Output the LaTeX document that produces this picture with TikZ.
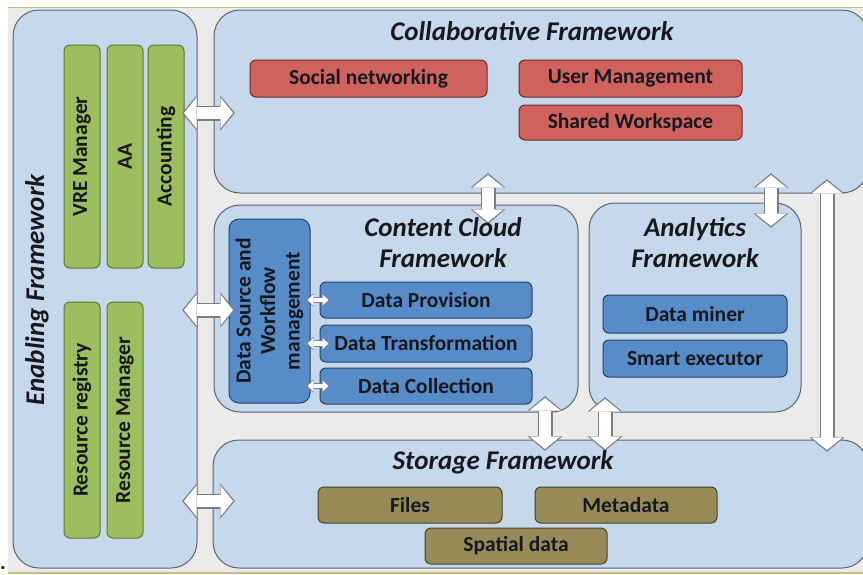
\documentclass[tikz,border=0pt]{standalone}
\usepackage{fontspec}
\setmainfont{Carlito}
\usetikzlibrary{arrows.meta}
\definecolor{bggray}{RGB}{235,235,236}
\definecolor{olivebar}{RGB}{196,190,128}
\definecolor{fwfill}{RGB}{198,216,236}
\definecolor{fwline}{RGB}{92,100,112}
\definecolor{greenfill}{RGB}{157,190,95}
\definecolor{greenline}{RGB}{92,118,48}
\definecolor{redfill}{RGB}{208,98,94}
\definecolor{redline}{RGB}{105,42,42}
\definecolor{bluefill}{RGB}{88,140,200}
\definecolor{blueline}{RGB}{38,66,104}
\definecolor{olivefill}{RGB}{150,139,86}
\definecolor{oliveline}{RGB}{72,66,36}
\definecolor{arrowline}{RGB}{125,125,128}
\definecolor{txt}{RGB}{22,24,30}
\newcommand\labelfont{\fontsize{21.5}{24.5}\selectfont\bfseries}
\newcommand\titlefont{\fontsize{27}{31}\selectfont\bfseries\itshape}
\tikzstyle{frame}=[draw=fwline, fill=fwfill, line width=1pt, rounded corners=26pt, inner sep=0pt]
\tikzstyle{title}=[text=txt, font=\titlefont, align=center, inner sep=0pt]
\tikzstyle{greenbar}=[draw=greenline, fill=greenfill, line width=1pt, rounded corners=6pt, rotate=90, minimum height=36pt, text=txt, font=\labelfont, inner sep=0pt]
\tikzstyle{redbox}=[draw=redline, fill=redfill, line width=1pt, rounded corners=6pt, text=txt, font=\labelfont, inner sep=0pt]
\tikzstyle{bluebox}=[draw=blueline, fill=bluefill, line width=1pt, rounded corners=6pt, text=txt, font=\labelfont, inner sep=0pt]
\tikzstyle{olivebox}=[draw=oliveline, fill=olivefill, line width=1pt, rounded corners=6pt, text=txt, font=\labelfont, inner sep=0pt]
\tikzstyle{bigarrow}=[white, line width=12.5pt, {Triangle[width=31pt,length=12.5pt,line width=0pt]}-{Triangle[width=31pt,length=12.5pt,line width=0pt]}, preaction={draw=arrowline, line width=15pt, {Triangle[width=35pt,length=14.5pt,line width=0pt]}-{Triangle[width=35pt,length=14.5pt,line width=0pt]}, shorten <=-1.8pt, shorten >=-1.8pt}]
\tikzstyle{smallarrow}=[white, line width=4.5pt, {Triangle[width=11pt,length=6pt,line width=0pt]}-{Triangle[width=11pt,length=6pt,line width=0pt]}, preaction={draw=arrowline, line width=6.3pt, {Triangle[width=13.5pt,length=7.2pt,line width=0pt]}-{Triangle[width=13.5pt,length=7.2pt,line width=0pt]}, shorten <=-1pt, shorten >=-1pt}]

\begin{document}
\begin{tikzpicture}[x=1pt,y=-1pt]
  \clip (0,0) rectangle (863,574);
  \fill[white] (0,0) rectangle (863,574);
  \fill[bggray] (8,8) rectangle (863,572);
  \draw[olivebar, line width=1.5pt] (8,7.5) -- (863,7.5);
  \draw[olivebar, line width=1.5pt] (8,573) -- (863,573);
  \node (dot) at (3,568) [text=txt, font=\labelfont, inner sep=0pt] {.};

  % frameworks
  \begin{scope}
    \node (enab) at (105,289) [frame, minimum width=184pt, minimum height=558pt] {};
    \node (collab) at (541,101.5) [frame, minimum width=654pt, minimum height=183pt] {};
    \node (content) at (396,308.5) [frame, minimum width=364pt, minimum height=207pt] {};
    \node (analytics) at (695,307.5) [frame, minimum width=212pt, minimum height=209pt] {};
    \node (storage) at (540.5,504) [frame, minimum width=655pt, minimum height=128pt] {};
  \end{scope}

  % components
  \begin{scope}
    \node (vre) at (82,156.5) [greenbar, minimum width=223pt] {VRE Manager};
    \node (aa) at (125,156.5) [greenbar, minimum width=223pt] {AA};
    \node (acct) at (166,156.5) [greenbar, minimum width=223pt] {Accounting};
    \node (resreg) at (82,420) [greenbar, minimum width=236pt] {Resource registry};
    \node (resmgr) at (125,420) [greenbar, minimum width=236pt] {Resource Manager};

    \node (social) at (368.5,78.5) [redbox, minimum width=237pt, minimum height=37pt] {Social networking};
    \node (usermgmt) at (630.5,78.5) [redbox, minimum width=223pt, minimum height=37pt] {User Management};
    \node (shared) at (630.5,122.5) [redbox, minimum width=223pt, minimum height=35pt] {Shared Workspace};

    \node (dsw) at (269.5,311) [bluebox, rounded corners=10pt, minimum width=81pt, minimum height=184pt] {};
    \node (dswtext) at (dsw.center) [rotate=90, text=txt, font=\labelfont, align=center, inner sep=0pt] {Data Source and\\Workflow\\management};
    \node (provision) at (426,300) [bluebox, minimum width=212pt, minimum height=36pt] {Data Provision};
    \node (transform) at (426,343.5) [bluebox, minimum width=212pt, minimum height=37pt] {Data Transformation};
    \node (collection) at (426,386) [bluebox, minimum width=212pt, minimum height=36pt] {Data Collection};

    \node (miner) at (695,314) [bluebox, minimum width=184pt, minimum height=38pt] {Data miner};
    \node (smartexec) at (695,358.5) [bluebox, minimum width=184pt, minimum height=37pt] {Smart executor};

    \node (files) at (410,505) [olivebox, minimum width=184pt, minimum height=36pt] {Files};
    \node (metadata) at (626,505) [olivebox, minimum width=182pt, minimum height=36pt] {Metadata};
    \node (spatial) at (516,546) [olivebox, minimum width=182pt, minimum height=36pt] {Spatial data};
  \end{scope}

  % arrow ends
  \begin{scope}
    \coordinate (e1) at (184,113);   \coordinate (c1) at (233,113);
    \coordinate (e2) at (184,310);   \coordinate (c2) at (233,310);
    \coordinate (e3) at (184,501);   \coordinate (c3) at (233,501);
    \coordinate (cb1) at (488,175);  \coordinate (ct1) at (488,222);
    \coordinate (cb2) at (771,175);  \coordinate (at2) at (771,226);
    \coordinate (cb3) at (827,181);  \coordinate (st3) at (827,450);
    \coordinate (cc4) at (545,398);  \coordinate (st4) at (545,449);
    \coordinate (an5) at (605,399);  \coordinate (st5) at (605,449);
  \end{scope}

  % connectors
  \begin{scope}
    \draw [bigarrow] (e1) -- (c1);
    \draw [bigarrow] (e2) -- (c2);
    \draw [bigarrow] (e3) -- (c3);
    \draw [bigarrow] (cb1) -- (ct1);
    \draw [bigarrow] (cb2) -- (at2);
    \draw [bigarrow] (cb3) -- (st3);
    \draw [bigarrow] (cc4) -- (st4);
    \draw [bigarrow] (an5) -- (st5);
    \draw [smallarrow] ([xshift=-3pt]dsw.east |- provision.west) -- ([xshift=9pt]provision.west);
    \draw [smallarrow] ([xshift=-3pt]dsw.east |- transform.west) -- ([xshift=9pt]transform.west);
    \draw [smallarrow] ([xshift=-3pt]dsw.east |- collection.west) -- ([xshift=9pt]collection.west);
  \end{scope}

  % titles
  \begin{scope}
    \node (enabtitle) at (37,290) [title, rotate=90] {Enabling Framework};
    \node (collabtitle) at (532,31) [title] {Collaborative Framework};
    \node (contenttitle) at (443,243) [title] {Content Cloud\\Framework};
    \node (analyticstitle) at (695,242.5) [title] {Analytics\\Framework};
    \node (storagetitle) at (503,462) [title] {Storage Framework};
  \end{scope}
\end{tikzpicture}
\end{document}
